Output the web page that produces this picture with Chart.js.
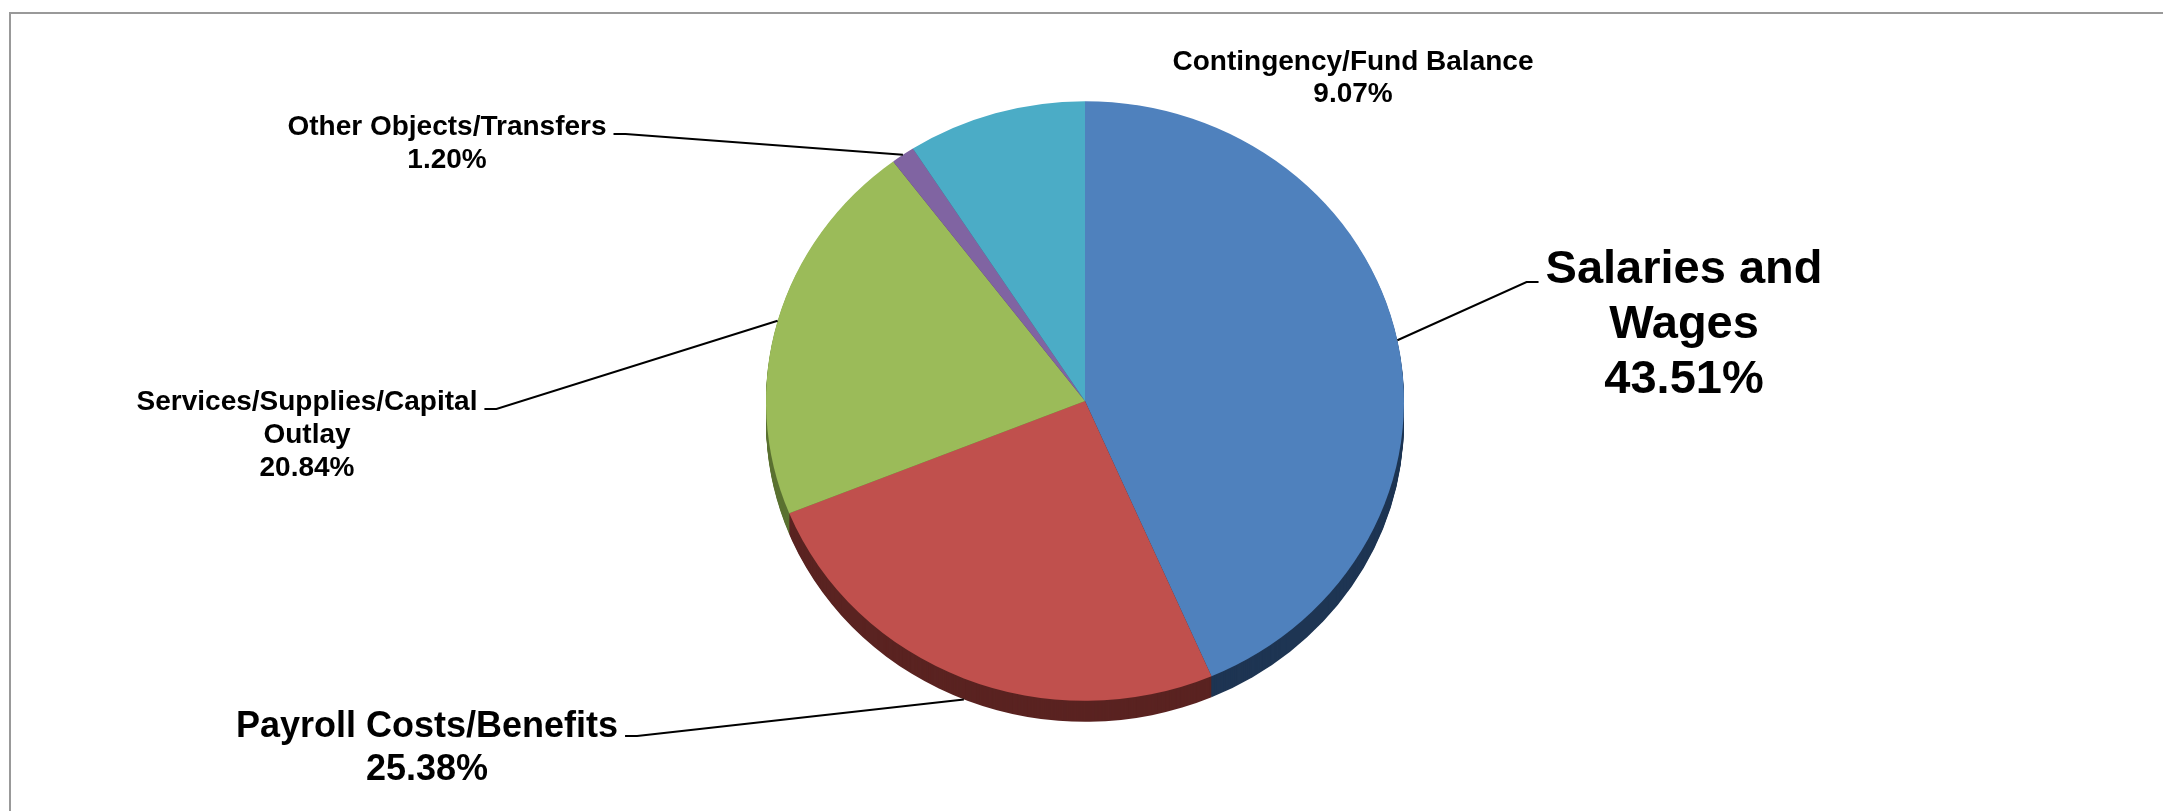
<!DOCTYPE html>
<html>
<head>
<meta charset="utf-8">
<title>Budget by Object</title>
<script src="https://cdn.jsdelivr.net/npm/chart.js@4.4.1/dist/chart.umd.min.js"></script>
<style>
    html, body { margin: 0; padding: 0; background: #ffffff; overflow: hidden; }
    #budgetPie { display: block; }
</style>
</head>
<body>
<canvas id="budgetPie" width="2163" height="811"></canvas>
<script>
// Données du graphique
const categories = [
    'Salaries and Wages',
    'Payroll Costs/Benefits',
    'Services/Supplies/Capital Outlay',
    'Other Objects/Transfers',
    'Contingency/Fund Balance'
];
const shares = [43.51, 25.38, 20.84, 1.20, 9.07];

// Couleurs du dessus et de la tranche (effet 3D)
const faceColors = ['#4f81bd', '#c0504d', '#9bbb59', '#8064a2', '#4bacc6'];
const sideColors = ['#1e3553', '#5a2321', '#5b7232', '#4a3a60', '#2b6b7c'];

// Placement des étiquettes, par rapport au centre du camembert
const labelSpots = [
    { dx: 599,  dy: -118, size: 47, lead: 55, wrap: 320, leader: true },
    { dx: -658, dy: 336,  size: 36, lead: 43, wrap: 900, leader: true },
    { dx: -778, dy: 9,    size: 28, lead: 33, wrap: 400, leader: true },
    { dx: -638, dy: -266, size: 28, lead: 33, wrap: 900, leader: true },
    { dx: 268,  dy: -331, size: 28, lead: 32, wrap: 900, leader: false }
];

const tilt = 0.94;   // aplatissement vertical du disque
const depth = 21;    // épaisseur de la tranche en pixels

function wrapText(ctx, text, maxWidth) {
    const words = text.split(' ');
    const lines = [];
    let current = '';
    words.forEach(word => {
        const test = current ? current + ' ' + word : word;
        if (current && ctx.measureText(test).width > maxWidth) {
            lines.push(current);
            current = word;
        } else {
            current = test;
        }
    });
    if (current) lines.push(current);
    return lines;
}

// Cadre gris en haut et à gauche
const framePlugin = {
    id: 'frame',
    beforeDraw(chart) {
        const ctx = chart.ctx;
        ctx.save();
        ctx.strokeStyle = '#999999';
        ctx.lineWidth = 2;
        ctx.beginPath();
        ctx.moveTo(10, chart.height);
        ctx.lineTo(10, 13);
        ctx.lineTo(chart.width, 13);
        ctx.stroke();
        ctx.restore();
    }
};

// Disque incliné avec tranche sombre dessous
const tiltPlugin = {
    id: 'tilt3d',
    beforeDatasetsDraw(chart) {
        const ctx = chart.ctx;
        const arcs = chart.getDatasetMeta(0).data;
        if (!arcs.length) return;
        const cx = arcs[0].x, cy = arcs[0].y;
        ctx.save();
        ctx.translate(cx, cy);
        ctx.scale(1, tilt);
        ctx.translate(-cx, -cy);
        for (let d = depth; d >= 1; d--) {
            const oy = cy + d / tilt;
            arcs.forEach((arc, i) => {
                ctx.beginPath();
                ctx.moveTo(cx, oy);
                ctx.arc(cx, oy, arc.outerRadius, arc.startAngle, arc.endAngle);
                ctx.closePath();
                ctx.fillStyle = sideColors[i];
                ctx.fill();
            });
        }
        // la transformation reste active pour le dessin des tranches
    },
    afterDatasetsDraw(chart) {
        chart.ctx.restore();
    }
};

// Étiquettes avec lignes de rappel
const labelPlugin = {
    id: 'sliceLabels',
    afterDraw(chart) {
        const ctx = chart.ctx;
        const arcs = chart.getDatasetMeta(0).data;
        arcs.forEach((arc, i) => {
            const spot = labelSpots[i];
            const cx = arc.x, cy = arc.y;
            ctx.save();
            ctx.font = `bold ${spot.size}px "Liberation Sans", Arial, sans-serif`;
            ctx.fillStyle = '#000000';
            ctx.textAlign = 'center';
            ctx.textBaseline = 'alphabetic';
            const lines = wrapText(ctx, categories[i], spot.wrap);
            lines.push(shares[i].toFixed(2) + '%');
            const tx = cx + spot.dx;
            const ty = cy + spot.dy;
            lines.forEach((line, j) => ctx.fillText(line, tx, ty + j * spot.lead));

            if (spot.leader) {
                const w = ctx.measureText(lines[0]).width;
                const mid = (arc.startAngle + arc.endAngle) / 2;
                const ex = cx + arc.outerRadius * Math.cos(mid);
                let ey = cy + arc.outerRadius * tilt * Math.sin(mid);
                if (Math.sin(mid) > 0) ey += depth;
                const toRight = ex > tx;
                const sx = toRight ? tx + w / 2 + 7 : tx - w / 2 - 7;
                const kx = toRight ? sx + 12 : sx - 12;
                const sy = ty - 1;
                ctx.strokeStyle = '#000000';
                ctx.lineWidth = 2;
                ctx.beginPath();
                ctx.moveTo(sx, sy);
                ctx.lineTo(kx, sy);
                ctx.lineTo(ex, ey);
                ctx.stroke();
            }
            ctx.restore();
        });
    }
};

const ctx = document.getElementById('budgetPie').getContext('2d');
new Chart(ctx, {
    type: 'pie',
    data: {
        labels: categories,
        datasets: [{
            data: shares,
            backgroundColor: faceColors,
            borderWidth: 0,
            clip: false
        }]
    },
    options: {
        responsive: false,
        animation: false,
        events: [],
        layout: {
            padding: { left: 766, right: 759, top: 82, bottom: 91 }
        },
        plugins: {
            legend: { display: false },
            tooltip: { enabled: false },
            title: { display: false }
        }
    },
    plugins: [framePlugin, tiltPlugin, labelPlugin]
});
</script>
</body>
</html>
